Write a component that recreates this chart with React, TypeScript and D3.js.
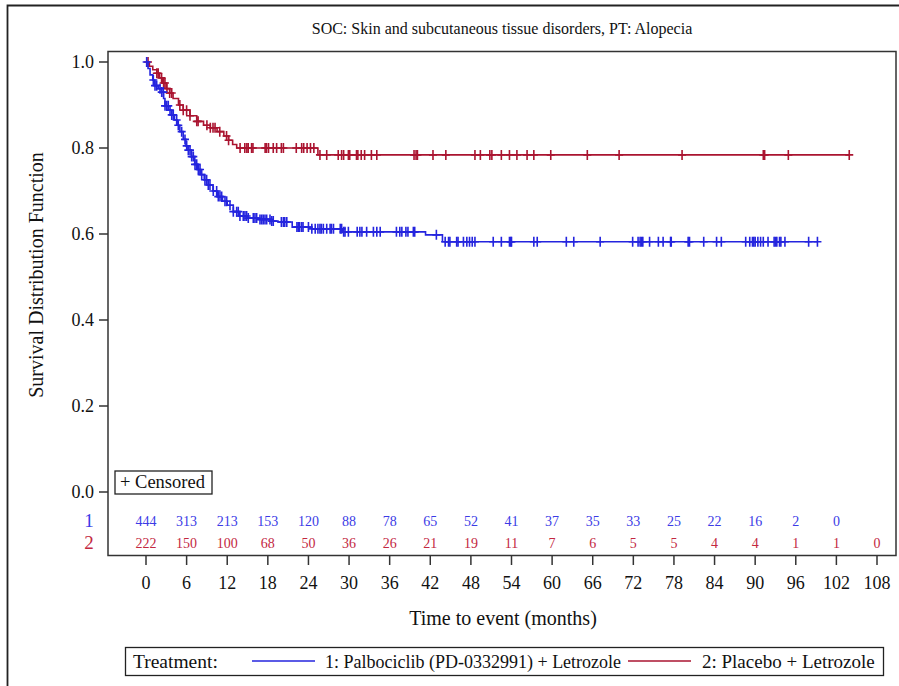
import React from 'react';
import * as d3 from 'd3';

// survival steps: [month, survival after the drop]
const palboSteps: [number, number][] = [
  [0.3, 0.985], [0.6, 0.97], [1.0, 0.958], [1.3, 0.945], [1.8, 0.938], [2.3, 0.93],
  [2.6, 0.915], [2.8, 0.898], [3.3, 0.888], [3.8, 0.877], [4.2, 0.865], [4.6, 0.853],
  [5.0, 0.838], [5.5, 0.82], [5.9, 0.805], [6.2, 0.795], [6.7, 0.78], [7.2, 0.762],
  [7.6, 0.75], [8.0, 0.738], [8.6, 0.726], [9.2, 0.714], [9.9, 0.7], [10.6, 0.687],
  [11.3, 0.676], [12.0, 0.667], [12.9, 0.652], [13.8, 0.642], [14.9, 0.637],
  [16.5, 0.634], [18.5, 0.63], [19.5, 0.628], [21.6, 0.616], [24.5, 0.612],
  [29.0, 0.605], [41.3, 0.598], [43.8, 0.582],
];
const placeboSteps: [number, number][] = [
  [0.5, 0.99], [1.0, 0.982], [1.6, 0.974], [2.0, 0.963], [2.4, 0.951], [3.0, 0.938],
  [3.5, 0.928], [4.0, 0.915], [4.8, 0.9], [5.5, 0.888], [6.5, 0.875], [7.5, 0.862],
  [8.5, 0.853], [9.5, 0.847], [10.5, 0.838], [11.5, 0.828], [12.2, 0.818],
  [12.8, 0.808], [13.4, 0.8], [25.4, 0.784],
];

// censoring times (months)
const palboCensor = [
  0.1, 1.08, 1.33, 1.58, 2.07, 2.32, 2.56, 2.81, 3.06, 3.29, 3.55, 3.8, 4.03, 4.53, 4.77,
  5.27, 5.76, 6.01, 6.25, 6.5, 6.75, 6.99, 7.24, 7.49, 7.73, 7.98, 8.23, 8.71, 8.96, 9.2,
  9.45, 9.94, 10.44, 10.68, 10.93, 11.18, 11.67, 11.92, 12.41, 12.9, 13.4, 13.63, 13.88,
  14.37, 14.62, 14.87, 15.11, 15.85, 16.1, 16.35, 16.84, 17.09, 17.32, 17.58, 17.83,
  18.32, 18.57, 18.8, 20.0, 20.3, 20.5, 20.8, 22.3, 22.5, 22.7, 23.0, 23.2, 24.0, 24.5,
  25.0, 25.4, 25.7, 25.9, 26.2, 26.7, 27.2, 27.4, 27.7, 28.7, 28.9, 29.2, 29.4, 29.9,
  31.2, 31.6, 31.9, 32.6, 33.6, 34.1, 34.6, 37.0, 37.5, 37.8, 38.4, 38.7, 39.5, 39.7,
  42.9, 44.2, 44.7, 44.9, 45.9, 46.1, 46.9, 47.4, 47.8, 48.2, 48.6, 51.3, 52.5, 53.7,
  53.9, 54.0, 57.3, 57.8, 62.1, 63.2, 67.1, 71.9, 72.7, 73.0, 73.2, 73.4, 74.4, 75.7,
  76.4, 77.5, 77.6, 80.1, 80.3, 82.4, 84.3, 85.0, 88.6, 89.2, 89.6, 89.8, 90.0, 90.4,
  90.8, 91.2, 91.9, 92.8, 93.0, 93.2, 93.6, 93.8, 94.4, 97.9, 99.2,
];
const placeboCensor = [
  0.3, 1.6, 1.8, 2.3, 2.6, 2.8, 3.1, 3.5, 3.8, 5.0, 5.5, 6.0, 6.5, 7.5, 7.7, 9.0, 9.5,
  9.9, 10.2, 10.9, 11.9, 12.2, 13.9, 14.6, 14.9, 15.1, 15.6, 15.8, 17.6, 17.8, 18.1,
  18.8, 19.3, 20.0, 20.3, 22.2, 23.0, 23.3, 23.8, 24.3, 24.8, 25.7, 26.7, 28.4, 28.9,
  29.2, 29.9, 30.1, 31.1, 31.3, 31.8, 32.3, 33.3, 34.1, 39.6, 39.9, 40.1, 42.4, 44.3,
  48.6, 49.4, 50.8, 51.1, 52.5, 53.7, 54.8, 56.3, 57.3, 59.8, 65.2, 69.9, 79.2, 91.2,
  91.4, 94.9, 103.9,
];

const riskTimes = [0, 6, 12, 18, 24, 30, 36, 42, 48, 54, 60, 66, 72, 78, 84, 90, 96, 102, 108];
const palboAtRisk = [444, 313, 213, 153, 120, 88, 78, 65, 52, 41, 37, 35, 33, 25, 22, 16, 2, 0];
const placeboAtRisk = [222, 150, 100, 68, 50, 36, 26, 21, 19, 11, 7, 6, 5, 5, 4, 4, 1, 1, 0];
const yTicks = [0, 0.2, 0.4, 0.6, 0.8, 1.0];

const BLUE = '#2424de';
const RED = '#aa1430';
const BLUE_TXT = '#3b3be6';
const RED_TXT = '#c3283f';
const FONT = "'Liberation Serif', 'Times New Roman', Times, serif";

const x = d3.scaleLinear().domain([0, 108]).range([146, 877]);
const y = d3.scaleLinear().domain([0, 1]).range([492, 62]);

const survAt = (steps: [number, number][], t: number) => {
  let s = 1;
  for (const [st, sv] of steps) if (st <= t) s = sv;
  return s;
};

const curvePath = (steps: [number, number][], end: number) => {
  const pts: [number, number][] = [[0, 1], ...steps, [end, survAt(steps, end)]];
  return d3.line<[number, number]>()
    .x(d => x(d[0]))
    .y(d => y(d[1]))
    .curve(d3.curveStepAfter)(pts) as string;
};

const Arm = ({steps, censor, color}: {steps: [number, number][], censor: number[], color: string}) => {
  const end = censor[censor.length - 1];
  return (
    <g stroke={color} fill="none" strokeWidth={1.6}>
      <path d={curvePath(steps, end)}/>
      {censor.map((t, i) => {
        const cx = x(t), cy = y(survAt(steps, t));
        return <path key={i} d={`M${cx - 4},${cy}H${cx + 4}M${cx},${cy - 5}V${cy + 5}`}/>;
      })}
    </g>
  );
};

export default function App() {
  return (
    <svg width={899} height={686} style={{position: 'absolute', left: 0, top: 0, background: '#fff', fontFamily: FONT}}>
      <rect x={0} y={0} width={899} height={686} fill="#fff"/>
      {/* outer frame */}
      <path d="M7.5,700V5.5H905" fill="none" stroke="#222" strokeWidth={1.8}/>
      <text x={502} y={34} textAnchor="middle" fontSize={16} fill="#111">
        SOC: Skin and subcutaneous tissue disorders, PT: Alopecia
      </text>

      {/* plot frame */}
      <rect x={108} y={51.5} width={788} height={504} fill="none" stroke="#333" strokeWidth={1.5}/>

      {/* y axis */}
      {yTicks.map(v => (
        <g key={v}>
          <line x1={99} x2={108} y1={y(v)} y2={y(v)} stroke="#333" strokeWidth={1.5}/>
          <text x={94} y={y(v)} dy="0.35em" textAnchor="end" fontSize={18} fill="#111">{v.toFixed(1)}</text>
        </g>
      ))}
      <text transform="translate(43,275) rotate(-90)" textAnchor="middle" fontSize={20} fill="#111">
        Survival Distribution Function
      </text>

      {/* x axis */}
      {riskTimes.map(t => (
        <g key={t}>
          <line x1={x(t)} x2={x(t)} y1={556} y2={565} stroke="#333" strokeWidth={1.5}/>
          <text x={x(t)} y={589} textAnchor="middle" fontSize={18} fill="#111">{t}</text>
        </g>
      ))}
      <text x={503} y={625} textAnchor="middle" fontSize={20} fill="#111">Time to event (months)</text>

      {/* curves */}
      <Arm steps={placeboSteps} censor={placeboCensor} color={RED}/>
      <Arm steps={palboSteps} censor={palboCensor} color={BLUE}/>

      {/* censored legend */}
      <rect x={115} y={471} width={97} height={23} fill="#fff" stroke="#222" strokeWidth={1.3}/>
      <text x={120} y={488} fontSize={18.5} fill="#111">+ Censored</text>

      {/* at-risk rows */}
      <text x={89} y={527} textAnchor="middle" fontSize={19} fill={BLUE_TXT}>1</text>
      <text x={89} y={549} textAnchor="middle" fontSize={19} fill={RED_TXT}>2</text>
      {palboAtRisk.map((n, i) => (
        <text key={'b' + i} x={x(riskTimes[i])} y={526} textAnchor="middle" fontSize={14} fill={BLUE_TXT}>{n}</text>
      ))}
      {placeboAtRisk.map((n, i) => (
        <text key={'r' + i} x={x(riskTimes[i])} y={548} textAnchor="middle" fontSize={14} fill={RED_TXT}>{n}</text>
      ))}

      {/* treatment legend */}
      <rect x={125.5} y={647.5} width={758} height={28} fill="#fff" stroke="#222" strokeWidth={1.3}/>
      <text x={133} y={668} fontSize={19.5} fill="#111">Treatment:</text>
      <line x1={252} x2={315} y1={661} y2={661} stroke={BLUE} strokeWidth={1.4}/>
      <text x={325} y={668} fontSize={18} fill="#111">1: Palbociclib (PD-0332991) + Letrozole</text>
      <line x1={628} x2={691} y1={661} y2={661} stroke={RED} strokeWidth={1.4}/>
      <text x={702} y={668} fontSize={19} fill="#111">2: Placebo + Letrozole</text>
    </svg>
  );
}
